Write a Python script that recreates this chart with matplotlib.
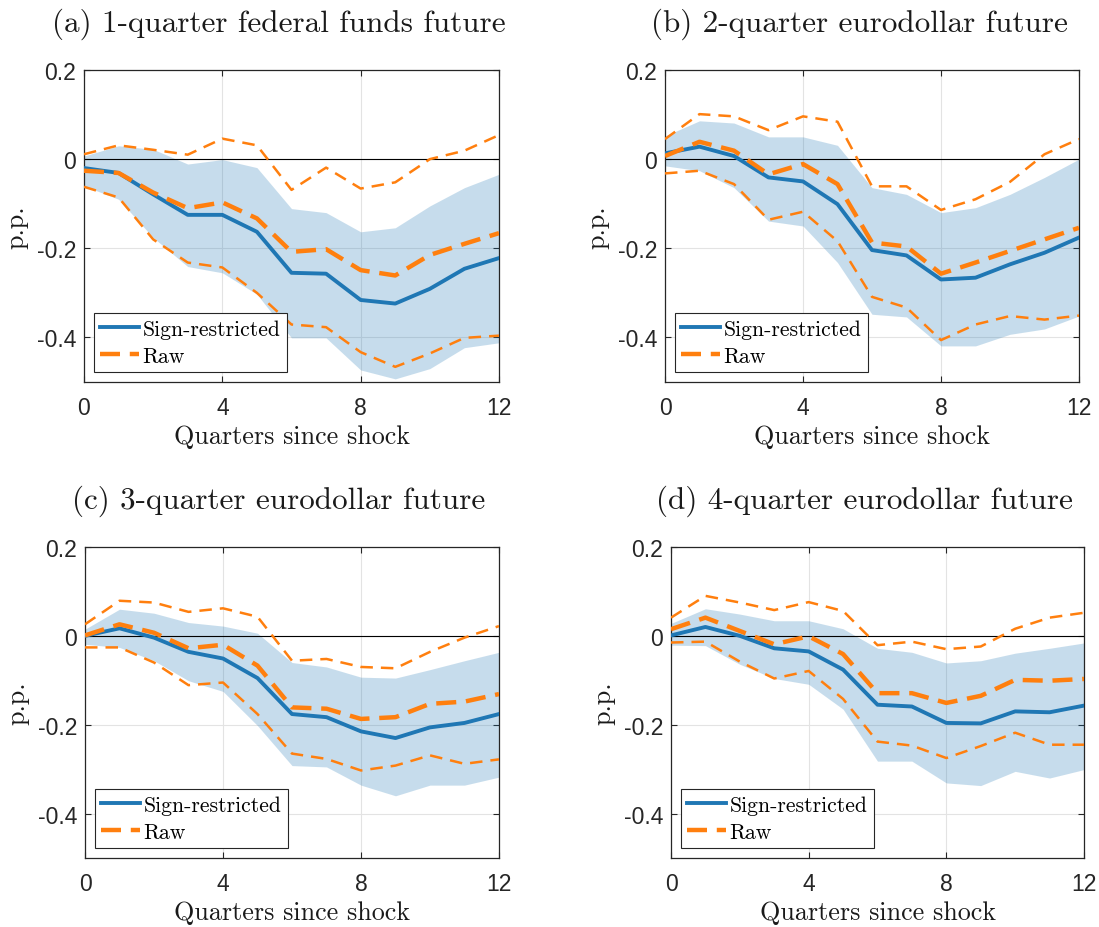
import numpy as np
import matplotlib
matplotlib.use("Agg")
import matplotlib.pyplot as plt

# Horizon (quarters since shock)
quarters = list(range(13))

titles = [
    "(a) 1-quarter federal funds future",
    "(b) 2-quarter eurodollar future",
    "(c) 3-quarter eurodollar future",
    "(d) 4-quarter eurodollar future",
]

# Panel (a)
sign_a = [-0.020, -0.031, -0.079, -0.125, -0.125, -0.163, -0.255, -0.257, -0.316, -0.324, -0.291, -0.246, -0.222]
raw_a = [-0.026, -0.031, -0.075, -0.110, -0.097, -0.133, -0.208, -0.202, -0.249, -0.261, -0.215, -0.190, -0.166]
raw_hi_a = [0.011, 0.031, 0.021, 0.010, 0.046, 0.031, -0.069, -0.019, -0.066, -0.052, 0.000, 0.019, 0.054]
raw_lo_a = [-0.062, -0.086, -0.180, -0.232, -0.243, -0.300, -0.371, -0.377, -0.433, -0.466, -0.436, -0.401, -0.396]
band_hi_a = [0.007, 0.030, 0.022, -0.011, -0.001, -0.019, -0.111, -0.120, -0.163, -0.154, -0.105, -0.064, -0.034]
band_lo_a = [-0.060, -0.090, -0.176, -0.241, -0.255, -0.303, -0.401, -0.401, -0.473, -0.493, -0.470, -0.423, -0.412]

# Panel (b)
sign_b = [0.013, 0.028, 0.007, -0.041, -0.050, -0.101, -0.204, -0.216, -0.270, -0.266, -0.236, -0.210, -0.176]
raw_b = [0.007, 0.039, 0.019, -0.034, -0.011, -0.056, -0.187, -0.196, -0.257, -0.232, -0.206, -0.180, -0.154]
raw_hi_b = [0.045, 0.101, 0.096, 0.065, 0.096, 0.084, -0.061, -0.061, -0.114, -0.090, -0.051, 0.011, 0.045]
raw_lo_b = [-0.032, -0.026, -0.056, -0.136, -0.118, -0.184, -0.309, -0.333, -0.406, -0.371, -0.352, -0.360, -0.351]
band_hi_b = [0.052, 0.086, 0.081, 0.050, 0.050, 0.031, -0.064, -0.079, -0.120, -0.109, -0.079, -0.041, 0.000]
band_lo_b = [-0.015, -0.026, -0.064, -0.139, -0.150, -0.232, -0.348, -0.354, -0.419, -0.419, -0.393, -0.381, -0.352]

# Panel (c)
sign_c = [0.000, 0.017, -0.004, -0.036, -0.051, -0.095, -0.176, -0.183, -0.215, -0.230, -0.206, -0.196, -0.176]
raw_c = [0.001, 0.026, 0.007, -0.028, -0.020, -0.067, -0.161, -0.164, -0.187, -0.183, -0.153, -0.148, -0.131]
raw_hi_c = [0.026, 0.079, 0.075, 0.054, 0.062, 0.043, -0.056, -0.052, -0.070, -0.073, -0.036, -0.004, 0.022]
raw_lo_c = [-0.026, -0.026, -0.060, -0.111, -0.105, -0.176, -0.265, -0.277, -0.303, -0.292, -0.269, -0.288, -0.278]
band_hi_c = [0.015, 0.060, 0.051, 0.030, 0.022, 0.006, -0.060, -0.070, -0.093, -0.095, -0.076, -0.056, -0.037]
band_lo_c = [-0.019, -0.026, -0.056, -0.101, -0.125, -0.202, -0.292, -0.295, -0.336, -0.360, -0.336, -0.336, -0.318]

# Panel (d)
sign_d = [0.001, 0.020, 0.000, -0.028, -0.035, -0.076, -0.155, -0.159, -0.196, -0.197, -0.170, -0.172, -0.157]
raw_d = [0.015, 0.041, 0.011, -0.019, -0.001, -0.041, -0.129, -0.129, -0.151, -0.135, -0.099, -0.101, -0.097]
raw_hi_d = [0.041, 0.090, 0.075, 0.058, 0.076, 0.056, -0.021, -0.013, -0.030, -0.024, 0.016, 0.041, 0.052]
raw_lo_d = [-0.015, -0.013, -0.058, -0.096, -0.079, -0.142, -0.238, -0.247, -0.275, -0.248, -0.218, -0.245, -0.245]
band_hi_d = [0.028, 0.061, 0.049, 0.034, 0.034, 0.016, -0.028, -0.037, -0.061, -0.056, -0.039, -0.028, -0.016]
band_lo_d = [-0.021, -0.022, -0.064, -0.096, -0.109, -0.165, -0.282, -0.282, -0.331, -0.337, -0.305, -0.320, -0.301]

xticks = [0, 4, 8, 12]
yticks = [-0.4, -0.2, 0, 0.2]
ytick_labels = ["-0.4", "-0.2", "0", "0.2"]

BLUE = "#1f77b4"
ORANGE = "#ff7f0e"
SERIF = ["cmr10", "DejaVu Serif"]

plt.rcParams["axes.unicode_minus"] = False
plt.rcParams["font.family"] = ["Liberation Sans", "DejaVu Sans"]

fig = plt.figure(figsize=(10.99, 9.28), dpi=100)

# axes boxes in pixels: left, top, right, bottom
boxes = [
    (84, 71, 499, 383),
    (665, 71, 1079, 383),
    (85, 548, 499, 859),
    (671, 548, 1084, 859),
]

panels = [
    (sign_a, raw_a, raw_hi_a, raw_lo_a, band_hi_a, band_lo_a),
    (sign_b, raw_b, raw_hi_b, raw_lo_b, band_hi_b, band_lo_b),
    (sign_c, raw_c, raw_hi_c, raw_lo_c, band_hi_c, band_lo_c),
    (sign_d, raw_d, raw_hi_d, raw_lo_d, band_hi_d, band_lo_d),
]

W, H = 1099, 928
for (l, t, r, b), title, (sign, raw, raw_hi, raw_lo, band_hi, band_lo) in zip(boxes, titles, panels):
    ax = fig.add_axes([l / W, 1 - b / H, (r - l) / W, (b - t) / H])

    ax.fill_between(quarters, band_lo, band_hi, color=BLUE, alpha=0.25, linewidth=0, zorder=1)
    ax.axhline(0, color="black", linewidth=0.8, zorder=2)
    ax.plot(quarters, raw_hi, color=ORANGE, linewidth=1.8, dashes=(5.0, 3.2), zorder=3)
    ax.plot(quarters, raw_lo, color=ORANGE, linewidth=1.8, dashes=(5.0, 3.2), zorder=3)
    ax.plot(quarters, sign, color=BLUE, linewidth=2.8, label="Sign-restricted", zorder=4)
    ax.plot(quarters, raw, color=ORANGE, linewidth=3.2, dashes=(4.5, 2.2), label="Raw", zorder=5)

    ax.set_xlim(0, 12)
    ax.set_ylim(-0.5, 0.2)
    ax.set_xticks(xticks)
    ax.set_yticks(yticks)
    ax.set_yticklabels(ytick_labels)
    ax.tick_params(direction="in", top=True, right=True, length=4, width=0.8,
                   labelsize=16.5, colors="#262626")
    ax.tick_params(axis="x", pad=10)
    ax.tick_params(axis="y", pad=5.5)
    ax.grid(True, color="#e3e3e3", linewidth=0.8)
    ax.set_axisbelow(True)
    for s in ax.spines.values():
        s.set_color("#262626")
        s.set_linewidth(0.9)

    # title sits slightly left of the axes centre, as in the original layout
    ax.set_title(title, family=SERIF, fontsize=22.4, pad=28, color="#1a1a1a",
                 x=0.5 - 13 / (r - l))
    ax.set_xlabel("Quarters since shock", family=SERIF, fontsize=18.8, labelpad=4, color="#1a1a1a")
    ax.set_ylabel("p.p.", family=SERIF, fontsize=18.8, labelpad=6, color="#1a1a1a")

    leg = ax.legend(loc="lower left", bbox_to_anchor=(0.0, 0.0), prop={"family": SERIF, "size": 15.6},
                    frameon=True, fancybox=False, edgecolor="#262626", framealpha=1,
                    handlelength=1.8, handletextpad=0.15, borderpad=0.3, labelspacing=0.35,
                    borderaxespad=0.45)
    leg.get_frame().set_linewidth(0.8)

fig.savefig("out.png", dpi=100)
